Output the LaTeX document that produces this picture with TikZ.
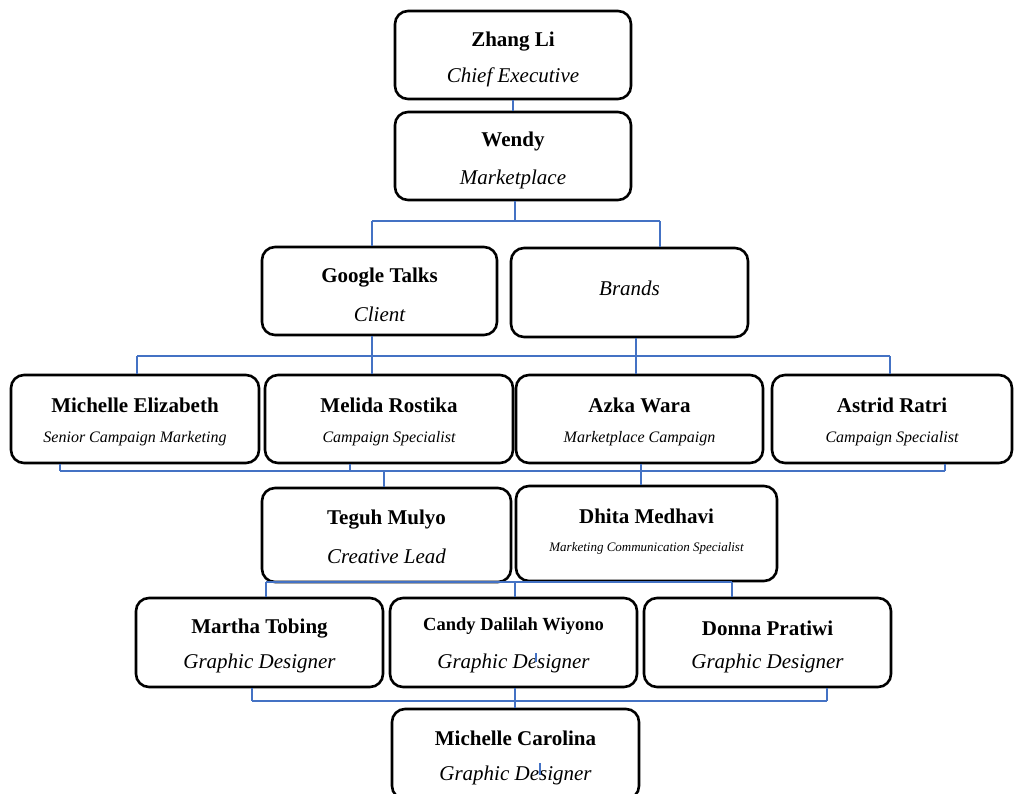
\documentclass[tikz,border=0pt]{standalone}
\usepackage{fontspec}
\setmainfont{Liberation Serif}
\definecolor{linkblue}{HTML}{4472C4}

\begin{document}
\begin{tikzpicture}[x=1pt, y=-1pt,
                          box/.style={rectangle, draw, rounded corners=13pt, line width=2.6pt, minimum width=247pt, minimum height=88pt, inner sep=0pt},
                          namelbl/.style={font=\fontsize{21}{24}\selectfont\bfseries, inner sep=0pt},
                          rolelbl/.style={font=\fontsize{21}{24}\selectfont\itshape, inner sep=0pt},
                          smallrole/.style={font=\fontsize{16}{19}\selectfont\itshape, inner sep=0pt},
                          link/.style={draw=linkblue, line width=1.1pt},
                      ]
                      \useasboundingbox (0,0) rectangle (1014,794);
                      % Nodes
                      \node[box, minimum width=236pt]   (zhang)     at (513,55)      {};
                      \node[namelbl]  at ([yshift=-32pt]zhang.north)     {Zhang Li};
                      \node[rolelbl]  at ([yshift=-68pt]zhang.north)     {Chief Executive};

                      \node[box, minimum width=236pt]   (wendy)     at (513,156)     {};
                      \node[namelbl]  at ([yshift=-31pt]wendy.north)     {Wendy};
                      \node[rolelbl]  at ([yshift=-69pt]wendy.north)     {Marketplace};

                      \node[box, minimum width=235pt]   (google)    at (379.5,291)   {};
                      \node[namelbl]  at ([yshift=-32pt]google.north)    {Google Talks};
                      \node[rolelbl]  at ([yshift=-69pt]google.north)    {Client};

                      \node[box, minimum width=237pt, minimum height=89pt]   (brands)    at (629.5,292.5) {};
                      \node[rolelbl]  at ([yshift=-42pt]brands.north)    {Brands};

                      \node[box, minimum width=248pt]   (michelleE) at (135,419)     {};
                      \node[namelbl]  at ([yshift=-32pt]michelleE.north) {Michelle Elizabeth};
                      \node[smallrole] at ([yshift=-65pt]michelleE.north) {Senior Campaign Marketing};

                      \node[box, minimum width=248pt]   (melida)    at (389,419)     {};
                      \node[namelbl]  at ([yshift=-32pt]melida.north)    {Melida Rostika};
                      \node[smallrole] at ([yshift=-65pt]melida.north)   {Campaign Specialist};

                      \node[box]                        (azka)      at (639.5,419)   {};
                      \node[namelbl]  at ([yshift=-32pt]azka.north)      {Azka Wara};
                      \node[smallrole] at ([yshift=-65pt]azka.north)     {Marketplace Campaign};

                      \node[box, minimum width=240pt]   (astrid)    at (892,419)     {};
                      \node[namelbl]  at ([yshift=-32pt]astrid.north)    {Astrid Ratri};
                      \node[smallrole] at ([yshift=-65pt]astrid.north)   {Campaign Specialist};

                      \node[box, minimum width=249pt, minimum height=94pt]   (teguh)     at (386.5,535)   {};
                      \node[namelbl]  at ([yshift=-33pt]teguh.north)     {Teguh Mulyo};
                      \node[rolelbl]  at ([yshift=-70pt]teguh.north)     {Creative Lead};

                      \node[box, minimum width=261pt, minimum height=95pt]   (dhita)     at (646.5,533.5) {};
                      \node[namelbl]  at ([yshift=-32pt]dhita.north)     {Dhita Medhavi};
                      \node[font=\fontsize{13}{15}\selectfont\itshape, inner sep=0pt] at ([yshift=-64pt]dhita.north) {Marketing Communication Specialist};

                      \node[box, minimum height=89pt]   (martha)    at (259.5,642.5) {};
                      \node[namelbl]  at ([yshift=-32pt]martha.north)    {Martha Tobing};
                      \node[rolelbl]  at ([yshift=-67pt]martha.north)    {Graphic Designer};

                      \node[box, minimum height=89pt]   (candy)     at (513.5,642.5) {};
                      \node[namelbl, font=\fontsize{18.5}{21}\selectfont\bfseries] at ([yshift=-29pt]candy.north) {Candy Dalilah Wiyono};
                      \node[rolelbl]  at ([yshift=-67pt]candy.north)     {Graphic Designer};

                      \node[box, minimum height=89pt]   (donna)     at (767.5,642.5) {};
                      \node[namelbl]  at ([yshift=-32pt]donna.north)     {Donna Pratiwi};
                      \node[rolelbl]  at ([yshift=-67pt]donna.north)     {Graphic Designer};

                      \node[box, minimum height=90pt]   (carolina)  at (515.5,754)   {};
                      \node[namelbl]  at ([yshift=-31pt]carolina.north)  {Michelle Carolina};
                      \node[rolelbl]  at ([yshift=-68pt]carolina.north)  {Graphic Designer};

                      % Junctions
                      \coordinate (wendy_j)    at (515,221);
                      \coordinate (top_l)      at (372,221);
                      \coordinate (top_r)      at (660,221);
                      \coordinate (mid_l)      at (137,356);
                      \coordinate (mid_r)      at (890,356);
                      \coordinate (brands_j)   at (636,356);
                      \coordinate (low_l)      at (60,471);
                      \coordinate (low_r)      at (945,471);
                      \coordinate (melida_j)   at (350,471);
                      \coordinate (teguh_j)    at (384,471);
                      \coordinate (azka_j)     at (641,471);
                      \coordinate (crt_l)      at (266,582);
                      \coordinate (crt_r)      at (732,582);
                      \coordinate (candy_j)    at (515,582);
                      \coordinate (gd_l)       at (252,701);
                      \coordinate (gd_r)       at (827,701);
                      \coordinate (carolina_j) at (515,701);

                      %Lines
                      \draw[link] (zhang.south) -- (wendy.north);
                      \draw[link] (wendy.south -| wendy_j) -- (wendy_j);
                      \draw[link] (top_l) -- (top_r);
                      \draw[link] (top_l) -- (top_l |- google.north);
                      \draw[link] (top_r) -- (top_r |- brands.north);

                      \draw[link] (mid_l) -- (mid_r);
                      \draw[link] (mid_l) -- (mid_l |- michelleE.north);
                      \draw[link] (mid_r) -- (mid_r |- astrid.north);
                      \draw[link] (google.south -| top_l) -- (top_l |- melida.north);
                      \draw[link] (brands.south -| brands_j) -- (brands_j |- azka.north);

                      \draw[link] (low_l) -- (low_r);
                      \draw[link] (michelleE.south -| low_l) -- (low_l);
                      \draw[link] (astrid.south -| low_r) -- (low_r);
                      \draw[link] (melida.south -| melida_j) -- (melida_j);
                      \draw[link] (teguh_j) -- (teguh_j |- teguh.north);
                      \draw[link] (azka.south -| azka_j) -- (azka_j |- dhita.north);

                      \draw[link] (crt_l) -- (crt_r);
                      \draw[link] (crt_l) -- (crt_l |- martha.north);
                      \draw[link] (candy_j) -- (candy_j |- candy.north);
                      \draw[link] (crt_r) -- (crt_r |- donna.north);

                      \draw[link] (gd_l) -- (gd_r);
                      \draw[link] (martha.south -| gd_l) -- (gd_l);
                      \draw[link] (donna.south -| gd_r) -- (gd_r);
                      \draw[link] (candy.south -| carolina_j) -- (carolina_j |- carolina.north);

                      \draw[link] ([shift={(22.5,10.5)}]candy.center) -- ++(0,9);
                      \draw[link] ([shift={(24.5,9)}]carolina.center) -- ++(0,12);
                  \end{tikzpicture}
\end{document}
